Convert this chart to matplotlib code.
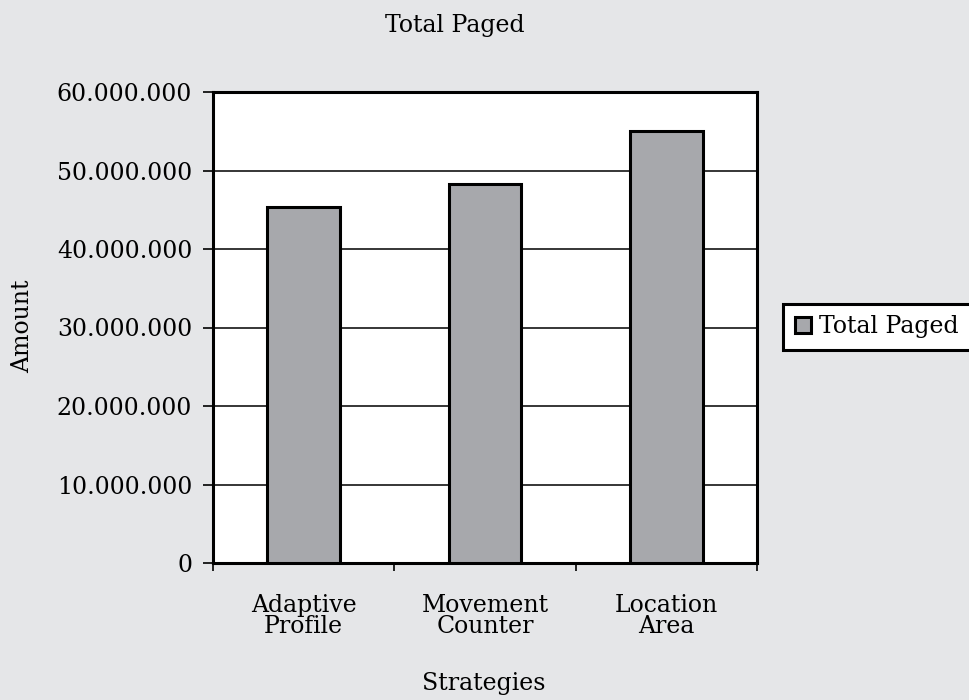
import matplotlib
matplotlib.use("Agg")
import matplotlib.pyplot as plt
from matplotlib.ticker import FuncFormatter, MultipleLocator

strategies = ["Adaptive\nProfile", "Movement\nCounter", "Location\nArea"]
total_paged = [45400000, 48300000, 55000000]
series_name = "Total Paged"

BG = "#e5e6e8"
BAR = "#a7a8ac"
FS = 17

plt.rcParams["font.family"] = ["DejaVu Serif"]

fig = plt.figure(figsize=(9.69, 7.0), dpi=100, facecolor=BG)
ax = fig.add_axes([213 / 969, 137 / 700, 544 / 969, 471 / 700])
ax.set_facecolor("white")

x = list(range(len(strategies)))
ax.bar(x, total_paged, width=0.4, color=BAR, edgecolor="black",
       linewidth=2.2, zorder=3, label=series_name)

ax.set_xlim(-0.5, len(strategies) - 0.5)
ax.set_ylim(0, 60000000)
ax.yaxis.set_major_locator(MultipleLocator(10000000))
ax.yaxis.set_major_formatter(
    FuncFormatter(lambda v, p: "{:,.0f}".format(v).replace(",", ".")))
ax.grid(axis="y", color="black", linewidth=1.1, zorder=0)

# ticks sit between categories, labels centred under the bars
ax.set_xticks([i - 0.5 for i in range(len(strategies) + 1)])
ax.set_xticklabels([])
ax.set_xticks(x, minor=True)
ax.set_xticklabels(strategies, minor=True, fontsize=FS, linespacing=0.92)
ax.tick_params(axis="x", which="minor", length=0, pad=22)
ax.tick_params(axis="x", which="major", direction="out", length=6,
               width=1.2, color="black")
ax.tick_params(axis="y", direction="out", length=7, width=1.2,
               labelsize=FS, pad=8)

for s in ax.spines.values():
    s.set_linewidth(2.2)
    s.set_color("black")

fig.text(455 / 969, 1 - 32 / 700, "Total Paged", ha="center", va="baseline",
         fontsize=FS)
fig.text(23 / 969, 1 - 326 / 700, "Amount", ha="center", va="center",
         rotation=90, fontsize=FS)
fig.text(484 / 969, 1 - 690 / 700, "Strategies", ha="center", va="baseline",
         fontsize=FS)

leg = fig.legend(loc="center left", bbox_to_anchor=(783 / 969, 1 - 327 / 700),
                 fontsize=FS, frameon=True, fancybox=False,
                 handlelength=0.68, handleheight=0.68, handletextpad=0.35,
                 borderpad=0.5, borderaxespad=0)
leg.get_frame().set_edgecolor("black")
leg.get_frame().set_linewidth(2.2)
leg.get_frame().set_facecolor("white")
leg.get_frame().set_alpha(1)

fig.savefig("out.png", dpi=100, facecolor=BG)
